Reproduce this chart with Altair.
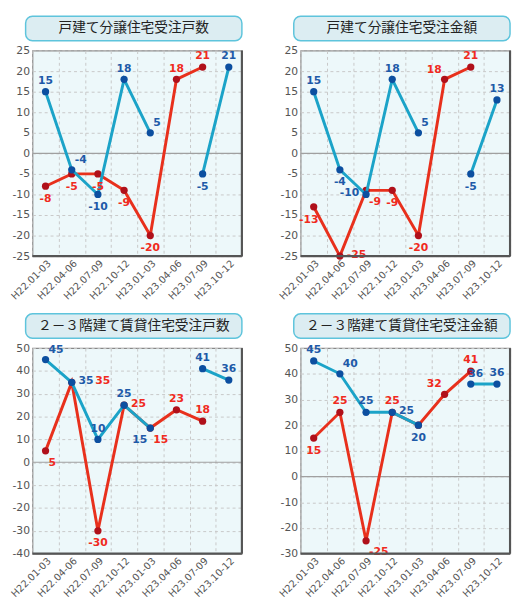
import altair as alt
import pandas as pd

cats = ["H22.01-03", "H22.04-06", "H22.07-09", "H22.10-12",
        "H23.01-03", "H23.04-06", "H23.07-09", "H23.10-12"]

titles = ["戸建て分譲住宅受注戸数", "戸建て分譲住宅受注金額",
          "２－３階建て賃貸住宅受注戸数", "２－３階建て賃貸住宅受注金額"]

p1_blue = [15, -4, -10, 18, 5, None, -5, 21]
p1_red = [-8, -5, -5, -9, -20, 18, 21, None]
p2_blue = [15, -4, -10, 18, 5, None, -5, 13]
p2_red = [-13, -25, -9, -9, -20, 18, 21, None]
p3_blue = [45, 35, 10, 25, 15, None, 41, 36]
p3_red = [5, 35, -30, 25, 15, 23, 18, None]
p4_blue = [45, 40, 25, 25, 20, None, 36, 36]
p4_red = [15, 25, -25, 25, 20, 32, 41, None]

# where each value label sits relative to its point
p1_blue_pos = ["n", "ne", "s", "n", "ne", "", "s", "n"]
p1_red_pos = ["s", "s", "s", "s", "s", "n", "n", ""]
p2_blue_pos = ["n", "s", "w", "n", "ne", "", "s", "n"]
p2_red_pos = ["ssw", "e", "se", "s", "s", "nw", "n", ""]
p3_blue_pos = ["ne", "e", "n", "n", "sw", "", "n", "n"]
p3_red_pos = ["se", "ee", "s", "e", "se", "n", "n", ""]
p4_blue_pos = ["n", "ne", "n", "e", "s", "", "nne", "n"]
p4_red_pos = ["s", "n", "se", "n", "", "nw", "n", ""]

W, H = 214, 210

BLUE_LINE, BLUE_PT, BLUE_TXT = "#1ba3c8", "#0c4fa0", "#1e5aa8"
RED_LINE, RED_PT, RED_TXT = "#e8301c", "#b0101a", "#f02a20"

offsets = {
    "n": ("center", 0, -11),
    "nne": ("center", 5, -10),
    "s": ("center", 0, 13),
    "ssw": ("center", -5, 14),
    "e": ("left", 7, -1),
    "ee": ("left", 24, -1),
    "w": ("right", -7, -1),
    "ne": ("left", 3, -10),
    "nw": ("right", -3, -10),
    "se": ("left", 3, 12),
    "sw": ("right", -3, 12),
}


def panel(title, blue, red, bpos, rpos, ymin, ymax, step):
    df = pd.DataFrame({
        "cat": cats * 2,
        "value": blue + red,
        "series": ["blue"] * 8 + ["red"] * 8,
        "pos": bpos + rpos,
    })
    df["label"] = [str(int(v)) if pd.notna(v) else "" for v in df.value]
    ticks = list(range(ymin, ymax + 1, step))
    x = alt.X("cat:N", sort=cats, bandPosition=0.5,
              scale=alt.Scale(type="band", paddingInner=0, paddingOuter=0),
              axis=alt.Axis(title=None, labelAngle=-45, tickBand="extent",
                            labelPadding=2))
    y = alt.Y("value:Q", scale=alt.Scale(domain=[ymin, ymax], nice=False, zero=False),
              axis=alt.Axis(title=None, values=ticks, tickCount=len(ticks),
                            labelOverlap=False, labelSeparation=0,
                            labelExpr="'' + datum.value"))

    base = alt.Chart(df).encode(x=x, y=y)
    zero = alt.Chart(pd.DataFrame({"value": [0]})).mark_rule(
        color="#a0a0a0", strokeWidth=1.2).encode(y=y)

    layers = [zero]
    for s, lc, pc in [("red", RED_LINE, RED_PT), ("blue", BLUE_LINE, BLUE_PT)]:
        sub = base.transform_filter(alt.datum.series == s)
        layers.append(sub.mark_line(color=lc, strokeWidth=3))
        layers.append(sub.mark_circle(color=pc, size=55, opacity=1))

    for s, tc in [("red", RED_TXT), ("blue", BLUE_TXT)]:
        part = df[(df.series == s) & df.value.notna()]
        for code, (al, dx, dy) in offsets.items():
            rows = part[part.pos == code]
            if rows.empty:
                continue
            layers.append(
                alt.Chart(rows).mark_text(
                    align=al, dx=dx, dy=dy, color=tc, fontSize=11,
                    fontWeight="bold", font="DejaVu Sans"
                ).encode(x=x, y=y, text="label:N")
            )

    # right and bottom edges of the frame are drawn heavier
    layers.append(alt.Chart(pd.DataFrame({"e": [0]})).mark_rule(
        color="#555555", strokeWidth=2.2
    ).encode(x=alt.value(W), y=alt.value(0), y2=alt.value(H)))
    layers.append(alt.Chart(pd.DataFrame({"e": [0]})).mark_rule(
        color="#555555", strokeWidth=2.2
    ).encode(x=alt.value(0), x2=alt.value(W), y=alt.value(H)))

    tdf = pd.DataFrame({"t": [title]})
    layers.append(alt.Chart(tdf).mark_rect(
        cornerRadius=7, fill="#dcedf2", stroke="#5ec4dc", strokeWidth=1.5
    ).encode(x=alt.value(-7), x2=alt.value(W), y=alt.value(-35), y2=alt.value(-10)))
    layers.append(alt.Chart(tdf).mark_text(
        fontSize=14, font="Noto Sans CJK JP", color="#222"
    ).encode(x=alt.value((W - 7) / 2), y=alt.value(-22.5), text="t:N"))

    return alt.layer(*layers).properties(width=W, height=H)


p1 = panel(titles[0], p1_blue, p1_red, p1_blue_pos, p1_red_pos, -25, 25, 5)
p2 = panel(titles[1], p2_blue, p2_red, p2_blue_pos, p2_red_pos, -25, 25, 5)
p3 = panel(titles[2], p3_blue, p3_red, p3_blue_pos, p3_red_pos, -40, 50, 10)
p4 = panel(titles[3], p4_blue, p4_red, p4_blue_pos, p4_red_pos, -30, 50, 10)

chart = alt.vconcat(
    alt.hconcat(p1, p2, spacing=33),
    alt.hconcat(p3, p4, spacing=33),
    spacing=10,
).properties(padding=0).configure_view(
    fill="#edf8fa", stroke="#888888", strokeWidth=1.2
).configure_axis(
    grid=True, gridColor="#c8c8c8", gridDash=[3, 3], domain=False, ticks=False,
    labelFont="DejaVu Sans", labelColor="#555555", labelFontSize=10,
    labelOverlap=False
).configure_axisY(labelFontSize=11, labelPadding=3, labelOverlap=False)

chart.save("out.html", embed_options={"renderer": "svg", "actions": False})
